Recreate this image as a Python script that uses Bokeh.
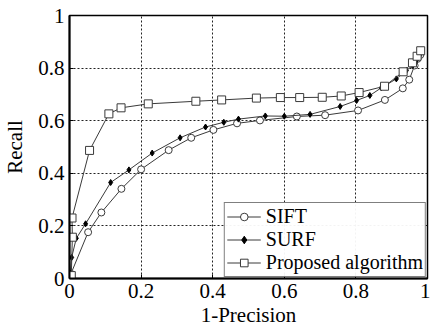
from bokeh.plotting import figure
from bokeh.models import FixedTicker, Legend, LegendItem
from bokeh.embed import file_html
from bokeh.resources import INLINE

# SIFT
sift_x = [0.004, 0.052, 0.089, 0.145, 0.200, 0.277, 0.340, 0.402, 0.468, 0.532, 0.635, 0.714, 0.806, 0.881, 0.931, 0.949, 0.964, 0.972, 0.980]
sift_y = [0.018, 0.176, 0.251, 0.341, 0.415, 0.488, 0.535, 0.565, 0.590, 0.601, 0.616, 0.621, 0.639, 0.679, 0.723, 0.756, 0.810, 0.835, 0.850]
# SURF
surf_x = [0.002, 0.006, 0.019, 0.045, 0.115, 0.166, 0.231, 0.309, 0.380, 0.431, 0.472, 0.547, 0.600, 0.672, 0.756, 0.802, 0.839, 0.871, 0.913, 0.941, 0.959, 0.969, 0.978]
surf_y = [0.020, 0.080, 0.153, 0.208, 0.365, 0.413, 0.477, 0.535, 0.576, 0.594, 0.606, 0.618, 0.617, 0.624, 0.654, 0.677, 0.696, 0.725, 0.759, 0.791, 0.810, 0.829, 0.848]
# Proposed algorithm
prop_x = [0.005, 0.008, 0.007, 0.056, 0.110, 0.144, 0.220, 0.353, 0.425, 0.522, 0.589, 0.643, 0.706, 0.759, 0.809, 0.880, 0.932, 0.958, 0.971, 0.981]
prop_y = [0.011, 0.157, 0.230, 0.487, 0.626, 0.649, 0.664, 0.674, 0.679, 0.686, 0.688, 0.688, 0.689, 0.694, 0.707, 0.731, 0.786, 0.820, 0.845, 0.866]

x_ticks = [0, 0.2, 0.4, 0.6, 0.8, 1]
x_tick_labels = ["0", "0.2", "0.4", "0.6", "0.8", "1"]
y_ticks = [0, 0.2, 0.4, 0.6, 0.8, 1]
y_tick_labels = ["0", "0.2", "0.4", "0.6", "0.8", "1"]

FONT = "Liberation Serif"
LC = "#3a3a3a"

p = figure(width=430, height=329, x_range=(0, 1), y_range=(0, 1),
           output_backend="svg", toolbar_location=None,
           min_border_left=68, min_border_right=3, min_border_top=15, min_border_bottom=51)
p.background_fill_color = "white"
p.border_fill_color = "white"
p.outline_line_color = "black"
p.outline_line_width = 1.5

for ax, ticks, labels in ((p.xaxis[0], x_ticks, x_tick_labels), (p.yaxis[0], y_ticks, y_tick_labels)):
    ax.ticker = FixedTicker(ticks=ticks)
    ax.major_label_overrides = {t: l for t, l in zip(ticks, labels)}
    ax.minor_tick_line_color = None
    ax.major_tick_in = 4
    ax.major_tick_out = 0
    ax.axis_line_width = 2
    ax.axis_line_color = "black"
    ax.major_tick_line_color = "black"
    ax.major_label_text_font = FONT
    ax.major_label_text_font_size = "21px"
    ax.major_label_text_color = "black"
    ax.axis_label_text_font = FONT
    ax.axis_label_text_font_size = "21px"
    ax.axis_label_text_font_style = "normal"
    ax.axis_label_text_color = "black"

p.xaxis.axis_label = "1-Precision"
p.yaxis.axis_label = "Recall"
p.xaxis.major_label_standoff = 5
p.xaxis.axis_label_standoff = 2
p.yaxis.major_label_standoff = 5
p.yaxis.axis_label_standoff = 8

p.grid.grid_line_color = "#222222"
p.grid.grid_line_dash = "2 2"
p.grid.grid_line_width = 1
p.xgrid.ticker = FixedTicker(ticks=x_ticks)
p.ygrid.ticker = FixedTicker(ticks=y_ticks)

l1 = p.line(sift_x, sift_y, line_color=LC, line_width=1)
m1 = p.scatter(sift_x, sift_y, marker="circle", size=7, line_color=LC, fill_color="white", line_width=1)
l2 = p.line(surf_x, surf_y, line_color=LC, line_width=1)
m2 = p.scatter(surf_x, surf_y, marker="diamond", size=6, line_color="black", fill_color="black")
l3 = p.line(prop_x, prop_y, line_color=LC, line_width=1)
m3 = p.scatter(prop_x, prop_y, marker="square", size=8, line_color=LC, fill_color="white", line_width=1)

legend = Legend(items=[
    LegendItem(label="SIFT", renderers=[l1, m1]),
    LegendItem(label="SURF", renderers=[l2, m2]),
    LegendItem(label="Proposed algorithm", renderers=[l3, m3]),
], location="bottom_right")
legend.label_text_font = FONT
legend.label_text_font_size = "20px"
legend.label_text_color = "black"
legend.border_line_color = "black"
legend.border_line_width = 1
legend.margin = 1
legend.padding = 2
legend.spacing = 0
legend.glyph_width = 34
legend.glyph_height = 19
legend.label_height = 19
legend.label_standoff = 5
legend.label_text_line_height = 1.0
p.add_layout(legend)

open("out.html", "w").write(file_html(p, INLINE))
